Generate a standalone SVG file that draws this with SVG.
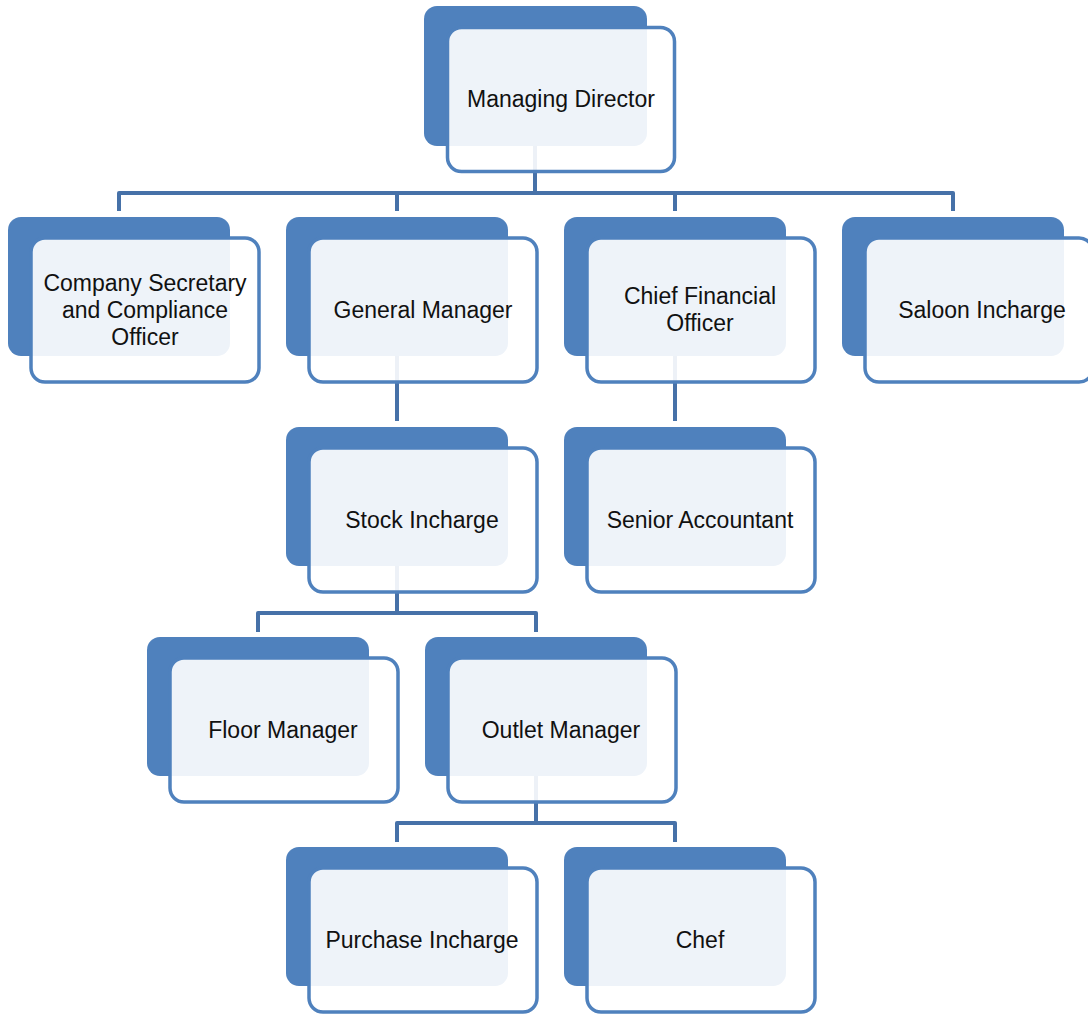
<svg xmlns="http://www.w3.org/2000/svg" width="1088" height="1015" viewBox="0 0 1088 1015">
<defs>
<style>
.bg{fill:#ffffff}
.conn{fill:none;stroke:#4671A8;stroke-width:4;stroke-linejoin:round}
.back{fill:#4F81BD}
.front{fill:#ffffff;fill-opacity:0.9;stroke:#4F81BD;stroke-width:3.5}
.lbl{font-family:"Liberation Sans",Arial,sans-serif;font-size:23px;fill:#111111;text-anchor:middle}
</style>
</defs>
<rect class="bg" x="0" y="0" width="1088" height="1015"/>
<g id="connectors">
<path class="conn" d="M535,140 V193"/>
<path class="conn" d="M119,211 V193 H953 V211"/>
<path class="conn" d="M397,193 V211"/>
<path class="conn" d="M675,193 V211"/>
<path class="conn" d="M397,350 V421"/>
<path class="conn" d="M675,350 V421"/>
<path class="conn" d="M397,560 V613"/>
<path class="conn" d="M258,632 V613 H536 V632"/>
<path class="conn" d="M536,770 V823"/>
<path class="conn" d="M397,842 V823 H675 V842"/>
</g>
<g id="managing-director">
<rect class="back" x="424" y="6" width="223" height="140" rx="13"/>
<rect class="front" x="447.5" y="27.5" width="227" height="144" rx="14"/>
<text class="lbl" x="561" y="107">Managing Director</text>
</g>
<g id="company-secretary">
<rect class="back" x="8" y="217" width="222" height="139" rx="13"/>
<rect class="front" x="31" y="238" width="228" height="144" rx="14"/>
<text class="lbl" x="145" y="291">Company Secretary</text>
<text class="lbl" x="145" y="318">and Compliance</text>
<text class="lbl" x="145" y="345">Officer</text>
</g>
<g id="general-manager">
<rect class="back" x="286" y="217" width="222" height="139" rx="13"/>
<rect class="front" x="309" y="238" width="228" height="144" rx="14"/>
<text class="lbl" x="423" y="318">General Manager</text>
</g>
<g id="chief-financial-officer">
<rect class="back" x="564" y="217" width="222" height="139" rx="13"/>
<rect class="front" x="587" y="238" width="228" height="144" rx="14"/>
<text class="lbl" x="700" y="304">Chief Financial</text>
<text class="lbl" x="700" y="331">Officer</text>
</g>
<g id="saloon-incharge">
<rect class="back" x="842" y="217" width="222" height="139" rx="13"/>
<rect class="front" x="865" y="238" width="228" height="144" rx="14"/>
<text class="lbl" x="982" y="318">Saloon Incharge</text>
</g>
<g id="stock-incharge">
<rect class="back" x="286" y="427" width="222" height="139" rx="13"/>
<rect class="front" x="309" y="448" width="228" height="144" rx="14"/>
<text class="lbl" x="422" y="528">Stock Incharge</text>
</g>
<g id="senior-accountant">
<rect class="back" x="564" y="427" width="222" height="139" rx="13"/>
<rect class="front" x="587" y="448" width="228" height="144" rx="14"/>
<text class="lbl" x="700" y="528">Senior Accountant</text>
</g>
<g id="floor-manager">
<rect class="back" x="147" y="637" width="222" height="139" rx="13"/>
<rect class="front" x="170" y="658" width="228" height="144" rx="14"/>
<text class="lbl" x="283" y="738">Floor Manager</text>
</g>
<g id="outlet-manager">
<rect class="back" x="425" y="637" width="222" height="139" rx="13"/>
<rect class="front" x="448" y="658" width="228" height="144" rx="14"/>
<text class="lbl" x="561" y="738">Outlet Manager</text>
</g>
<g id="purchase-incharge">
<rect class="back" x="286" y="847" width="222" height="139" rx="13"/>
<rect class="front" x="309" y="868" width="228" height="144" rx="14"/>
<text class="lbl" x="422" y="948">Purchase Incharge</text>
</g>
<g id="chef">
<rect class="back" x="564" y="847" width="222" height="139" rx="13"/>
<rect class="front" x="587" y="868" width="228" height="144" rx="14"/>
<text class="lbl" x="700" y="948">Chef</text>
</g>
</svg>
